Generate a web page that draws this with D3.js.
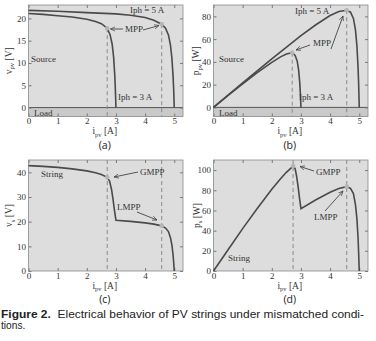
<!DOCTYPE html>
<html><head><meta charset="utf-8">
<script src="https://cdn.jsdelivr.net/npm/d3@7/dist/d3.min.js"></script>
<style>body{margin:0;background:#fff;} svg{display:block;}</style>
</head><body>
<svg id="c" width="376" height="341"></svg>
<script>
// ---- data ----
const iA5 = [0,1,2,3,3.5,4,4.3,4.57,4.7,4.8,4.87,4.92,4.96,4.98,5.0];
const vA5 = [21.8,21.6,21.3,21.0,20.7,20.2,19.6,18.7,17.8,16.3,14.0,11.0,7.0,4.0,0];
const iA3 = [0,0.5,1,1.5,2,2.3,2.5,2.7,2.8,2.87,2.92,2.96,2.98,3.0];
const vA3 = [21.1,20.9,20.6,20.3,19.8,19.3,18.8,17.8,16.3,14.2,11.3,7.2,4.0,0];
const iB5 = [0,1,2,3,3.5,4,4.3,4.57,4.7,4.8,4.87,4.92,4.96,4.98,5.0];
const pB5 = [0,21.6,42.6,63,72.4,80.8,84.3,85.4,83.7,78.2,68.2,54.1,34.7,19.9,0];
const iB3 = [0,0.5,1,1.5,2,2.3,2.5,2.7,2.8,2.87,2.92,2.96,2.98,3.0];
const pB3 = [0,10.5,20.6,30.5,39.6,44.4,47.0,48.1,45.6,40.8,33.0,21.3,11.9,0];
const iC = [0,0.5,1,1.5,2,2.3,2.5,2.7,2.78,2.85,2.9,2.95,3.0,3.5,4,4.3,4.57,4.7,4.8,4.87,4.92,4.96,4.98,5.0];
const vC = [42.7,42.4,42.0,41.4,40.6,39.8,39.1,38.0,36.5,33.0,29.0,24.5,20.6,20.1,19.5,19.0,18.3,17.4,16.0,13.5,10.5,6.5,3.5,0];
const iD = [0,0.5,1,1.5,2,2.3,2.5,2.73,2.8,2.85,2.9,2.95,3.0,3.5,4,4.3,4.57,4.7,4.8,4.87,4.92,4.96,4.98,5.0];
const pD = [0,21,42,62,81,91.5,97.8,104,101.5,94,84,72.3,61.8,70.4,78,81.7,83.6,81.8,76.8,65.7,51.7,32.2,17.4,0];
const mppA = [[2.7,17.8],[4.57,18.7]];
const mppB = [[2.7,48.1],[4.57,85.4]];
const mppC = [[2.7,38.0],[4.57,18.3]];
const mppD = [[2.73,104],[4.57,83.6]];
const xTicks = [0,1,2,3,4,5];
const yTicksA = [0,5,10,15,20];
const yTicksB = [0,20,40,60,80];
const yTicksC = [0,10,20,30,40];
const yTicksD = [0,20,40,60,80,100];

const svg = d3.select("#c");
const serif = "'Liberation Serif','DejaVu Serif',serif";
const sans = "'Open Sans','Noto Sans',sans-serif";
const capFont = "'Liberation Sans',Arial,sans-serif";
const defs = svg.append("defs");
defs.append("marker").attr("id","arr").attr("viewBox","0 0 10 10").attr("refX",9).attr("refY",5)
  .attr("markerWidth",6).attr("markerHeight",6).attr("orient","auto")
  .append("path").attr("d","M0,1 L9,5 L0,9").attr("fill","none").attr("stroke","#444").attr("stroke-width",1.3);

function panel(o){
  const x = d3.scaleLinear().domain([0,5.3]).range([o.x0,o.x1]);
  const y = d3.scaleLinear().domain(o.yd).range([o.y1,o.y0]);
  const g = svg.append("g");
  g.append("rect").attr("x",o.x0).attr("y",o.y0).attr("width",o.x1-o.x0).attr("height",o.y1-o.y0).attr("fill","#dddddd");
  if(o.load){
    g.append("rect").attr("x",o.x0).attr("y",y(0)).attr("width",o.x1-o.x0).attr("height",o.y1-y(0)).attr("fill","#c9c9c9");
    g.append("line").attr("x1",o.x0).attr("x2",o.x1).attr("y1",y(0)).attr("y2",y(0)).attr("stroke","#555").attr("stroke-width",1);
  }
  o.mpp.forEach(m=>{
    g.append("line").attr("x1",x(m[0])).attr("x2",x(m[0])).attr("y1",o.dashFull?o.y0:y(m[1])).attr("y2",o.y1)
      .attr("stroke","#8a8a8a").attr("stroke-width",1).attr("stroke-dasharray","4,3");
  });
  const ax = (gen, tr, ticks, fmt, pad) => {
    const a = g.append("g").attr("transform",tr).call(gen.tickValues(ticks).tickSize(-3).tickPadding(pad).tickFormat(fmt));
    a.select(".domain").remove();
    a.selectAll("line").attr("stroke","#777");
    a.selectAll("text").attr("font-family",serif).attr("font-size",9).attr("fill","#333");
  };
  ax(d3.axisBottom(x), `translate(0,${o.y1})`, xTicks, d3.format("d"), 1.5);
  ax(d3.axisTop(x), `translate(0,${o.y0})`, xTicks, ()=>"", 2);
  ax(d3.axisLeft(y), `translate(${o.x0},0)`, o.yt, d3.format("d"), 2.5);
  ax(d3.axisRight(y), `translate(${o.x1},0)`, o.yt, ()=>"", 2);
  g.append("rect").attr("x",o.x0).attr("y",o.y0).attr("width",o.x1-o.x0).attr("height",o.y1-o.y0)
    .attr("fill","none").attr("stroke","#8a8a8a").attr("stroke-width",0.8);
  const line = d3.line().x(d=>x(d[0])).y(d=>y(d[1]));
  o.series.forEach(s=>{
    g.append("path").attr("d",line(d3.zip(s[0],s[1]))).attr("fill","none").attr("stroke","#4a4a4a").attr("stroke-width",1.6);
  });
  o.mpp.forEach(m=>{
    g.append("circle").attr("cx",x(m[0])).attr("cy",y(m[1])).attr("r",2.3).attr("fill","#b5b5b5");
  });
  const xt = g.append("text").attr("x",(o.x0+o.x1)/2-1).attr("y",o.y1+17.5).attr("text-anchor","middle")
    .attr("font-family",serif).attr("font-size",9.5).attr("fill","#333");
  xt.append("tspan").text("i");
  xt.append("tspan").attr("font-size",6.5).attr("dy",2.5).text("pv");
  xt.append("tspan").attr("dy",-2.5).text(" [A]");
  const yt = g.append("text").attr("transform",`translate(${o.x0-o.ytOff},${(o.y0+o.y1)/2}) rotate(-90)`).attr("text-anchor","middle")
    .attr("font-family",serif).attr("font-size",9.5).attr("fill","#333");
  yt.append("tspan").text(o.yl[0]);
  yt.append("tspan").attr("font-size",6.5).attr("dy",2.5).text(o.yl[1]);
  yt.append("tspan").attr("dy",-2.5).text(" "+o.yl[2]);
  g.append("text").attr("x",(o.x0+o.x1)/2-1).attr("y",o.y1+32).attr("text-anchor","middle")
    .attr("font-family",sans).attr("font-size",10.5).attr("fill","#222").text(o.lab);
  o.notes.forEach(n=>{
    g.append("text").attr("x",n[0]).attr("y",n[1]).attr("font-family",serif).attr("font-size",9).attr("fill","#333").text(n[2]);
  });
  o.arrows.forEach(a=>{
    g.append("line").attr("x1",a[0]).attr("y1",a[1]).attr("x2",a[2]).attr("y2",a[3])
      .attr("stroke","#444").attr("stroke-width",0.9).attr("marker-end","url(#arr)");
  });
}

panel({x0:28.5,x1:183,y0:5,y1:116.5,yd:[-2,23],yt:yTicksA,load:true,dashFull:false,ytOff:17,
  series:[[iA5,vA5],[iA3,vA3]],mpp:mppA,yl:["v","pv","[V]"],lab:"(a)",
  notes:[[130,13,"Iph = 5 A"],[125,32,"MPP"],[31,62,"Source"],[118,100,"Iph = 3 A"],[34,116,"Load"]],
  arrows:[[123,29,110.5,29],[143,30,159,25.5]]});
panel({x0:213.5,x1:368,y0:5,y1:116.5,yd:[-8,90],yt:yTicksB,load:true,dashFull:false,ytOff:14.5,
  series:[[iB5,pB5],[iB3,pB3]],mpp:mppB,yl:["p","pv","[W]"],lab:"(b)",
  notes:[[295,14,"Iph = 5 A"],[313,46,"MPP"],[219,62,"Source"],[299,100,"Iph = 3 A"],[219,116,"Load"]],
  arrows:[[310,45,296,50],[331,49,343,16]]});
panel({x0:28.5,x1:183,y0:160,y1:271,yd:[0,45],yt:yTicksC,load:false,dashFull:true,ytOff:16.5,
  series:[[iC,vC]],mpp:mppC,yl:["v","s","[V]"],lab:"(c)",
  notes:[[41,177,"String"],[140,175,"GMPP"],[117,210,"LMPP"]],
  arrows:[[138,172,114,177],[137,212,157,220]]});
panel({x0:213.5,x1:368,y0:160,y1:271,yd:[0,110],yt:yTicksD,load:false,dashFull:true,ytOff:14,
  series:[[iD,pD]],mpp:mppD,yl:["p","s","[W]"],lab:"(d)",
  notes:[[316,175,"GMPP"],[314,220,"LMPP"],[228,261,"String"]],
  arrows:[[314,171,300,166.5],[325,211,343,191]]});

// caption
const cap = svg.append("text").attr("x",1).attr("y",317.5).attr("font-family",capFont).attr("font-size",10.2)
  .attr("fill","#222").attr("textLength",363).attr("lengthAdjust","spacingAndGlyphs");
cap.append("tspan").attr("font-weight","bold").text("Figure 2.");
cap.append("tspan").text("\u00a0\u00a0Electrical behavior of PV strings under mismatched condi-");
svg.append("text").attr("x",1).attr("y",329.2).attr("font-family",capFont).attr("font-size",10.2)
  .attr("fill","#222").text("tions.");
</script>
</body></html>
